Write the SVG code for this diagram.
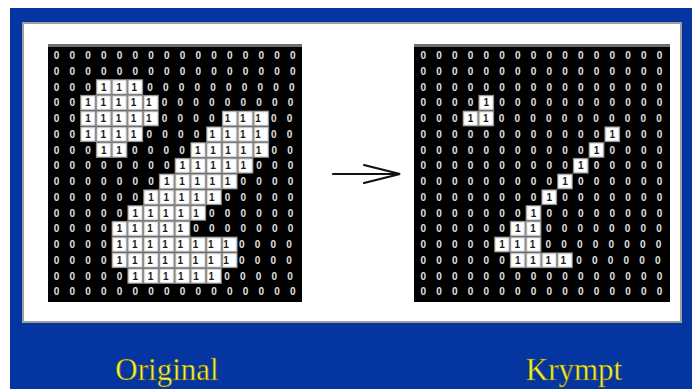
<svg xmlns="http://www.w3.org/2000/svg" width="692" height="389" viewBox="0 0 692 389">
<style>
.z{font-family:"Liberation Sans",Arial,sans-serif;font-weight:bold;font-size:10px;letter-spacing:10.19px;fill:#e0e0e0}
.o{fill:#1a1a1a}
.grid{fill:#000}
.top{fill:#6e6e6e}
.lbl{font-family:"Liberation Serif","Times New Roman",serif;font-size:31px;fill:#f4f43a;text-anchor:middle;stroke:#5a5a18;stroke-width:0.6px}
.arr{fill:none;stroke:#111;stroke-width:2.2;stroke-linecap:round}
</style>
<defs>
<pattern id="on" patternUnits="userSpaceOnUse" width="15.75" height="15.75">
<rect x="0.6" y="0.6" width="14.55" height="14.55" fill="#fff" stroke="#8c8c8c" stroke-width="1.2"/>
</pattern>
</defs>
<rect width="692" height="389" fill="#fff"/>
<rect x="10" y="8" width="682" height="381" fill="#0535a0"/>
<rect x="23" y="23" width="658" height="299" fill="#fff" stroke="#a0a0a0" stroke-width="2"/>

<g id="original">
<rect class="grid" x="48" y="44" width="254" height="258"/>
<rect class="top" x="48" y="44" width="254" height="3"/>
<g transform="translate(48.625,47.625)">
<g fill="url(#on)">
<rect x="47.25" y="31.5" width="47.25" height="15.75"/>
<rect x="31.5" y="47.25" width="78.75" height="15.75"/>
<rect x="31.5" y="63" width="78.75" height="15.75"/>
<rect x="173.25" y="63" width="47.25" height="15.75"/>
<rect x="31.5" y="78.75" width="63" height="15.75"/>
<rect x="157.5" y="78.75" width="63" height="15.75"/>
<rect x="47.25" y="94.5" width="31.5" height="15.75"/>
<rect x="141.75" y="94.5" width="78.75" height="15.75"/>
<rect x="126" y="110.25" width="78.75" height="15.75"/>
<rect x="110.25" y="126" width="78.75" height="15.75"/>
<rect x="94.5" y="141.75" width="78.75" height="15.75"/>
<rect x="78.75" y="157.5" width="78.75" height="15.75"/>
<rect x="63" y="173.25" width="78.75" height="15.75"/>
<rect x="63" y="189" width="126" height="15.75"/>
<rect x="63" y="204.75" width="126" height="15.75"/>
<rect x="78.75" y="220.5" width="94.5" height="15.75"/>
</g>
<text class="z" x="5.095" y="11.5">0000000000000000</text>
<text class="z" x="5.095" y="27.25">0000000000000000</text>
<text class="z" x="5.095" y="43">000<tspan class="o">111</tspan>0000000000</text>
<text class="z" x="5.095" y="58.75">00<tspan class="o">11111</tspan>000000000</text>
<text class="z" x="5.095" y="74.5">00<tspan class="o">11111</tspan>0000<tspan class="o">111</tspan>00</text>
<text class="z" x="5.095" y="90.25">00<tspan class="o">1111</tspan>0000<tspan class="o">1111</tspan>00</text>
<text class="z" x="5.095" y="106">000<tspan class="o">11</tspan>0000<tspan class="o">11111</tspan>00</text>
<text class="z" x="5.095" y="121.75">00000000<tspan class="o">11111</tspan>000</text>
<text class="z" x="5.095" y="137.5">0000000<tspan class="o">11111</tspan>0000</text>
<text class="z" x="5.095" y="153.25">000000<tspan class="o">11111</tspan>00000</text>
<text class="z" x="5.095" y="169">00000<tspan class="o">11111</tspan>000000</text>
<text class="z" x="5.095" y="184.75">0000<tspan class="o">11111</tspan>0000000</text>
<text class="z" x="5.095" y="200.5">0000<tspan class="o">11111111</tspan>0000</text>
<text class="z" x="5.095" y="216.25">0000<tspan class="o">11111111</tspan>0000</text>
<text class="z" x="5.095" y="232">00000<tspan class="o">111111</tspan>00000</text>
<text class="z" x="5.095" y="247.75">0000000000000000</text>
</g>
</g>

<g id="krympt">
<rect class="grid" x="414" y="44" width="256" height="258"/>
<rect class="top" x="414" y="44" width="256" height="3"/>
<g transform="translate(415.375,47.625)">
<g fill="url(#on)">
<rect x="63" y="47.25" width="15.75" height="15.75"/>
<rect x="47.25" y="63" width="31.5" height="15.75"/>
<rect x="189" y="78.75" width="15.75" height="15.75"/>
<rect x="173.25" y="94.5" width="15.75" height="15.75"/>
<rect x="157.5" y="110.25" width="15.75" height="15.75"/>
<rect x="141.75" y="126" width="15.75" height="15.75"/>
<rect x="126" y="141.75" width="15.75" height="15.75"/>
<rect x="110.25" y="157.5" width="15.75" height="15.75"/>
<rect x="94.5" y="173.25" width="31.5" height="15.75"/>
<rect x="78.75" y="189" width="47.25" height="15.75"/>
<rect x="94.5" y="204.75" width="63" height="15.75"/>
</g>
<text class="z" x="5.095" y="11.5">0000000000000000</text>
<text class="z" x="5.095" y="27.25">0000000000000000</text>
<text class="z" x="5.095" y="43">0000000000000000</text>
<text class="z" x="5.095" y="58.75">0000<tspan class="o">1</tspan>00000000000</text>
<text class="z" x="5.095" y="74.5">000<tspan class="o">11</tspan>00000000000</text>
<text class="z" x="5.095" y="90.25">000000000000<tspan class="o">1</tspan>000</text>
<text class="z" x="5.095" y="106">00000000000<tspan class="o">1</tspan>0000</text>
<text class="z" x="5.095" y="121.75">0000000000<tspan class="o">1</tspan>00000</text>
<text class="z" x="5.095" y="137.5">000000000<tspan class="o">1</tspan>000000</text>
<text class="z" x="5.095" y="153.25">00000000<tspan class="o">1</tspan>0000000</text>
<text class="z" x="5.095" y="169">0000000<tspan class="o">1</tspan>00000000</text>
<text class="z" x="5.095" y="184.75">000000<tspan class="o">11</tspan>00000000</text>
<text class="z" x="5.095" y="200.5">00000<tspan class="o">111</tspan>00000000</text>
<text class="z" x="5.095" y="216.25">000000<tspan class="o">1111</tspan>000000</text>
<text class="z" x="5.095" y="232">0000000000000000</text>
<text class="z" x="5.095" y="247.75">0000000000000000</text>
</g>
</g>

<g id="connectors">
<path class="arr" d="M333 174 H399 M364 165 L400 174 L364 183"/>
</g>

<g id="labels">
<text class="lbl" x="167" y="380">Original</text>
<text class="lbl" x="574" y="380">Krympt</text>
</g>
</svg>
